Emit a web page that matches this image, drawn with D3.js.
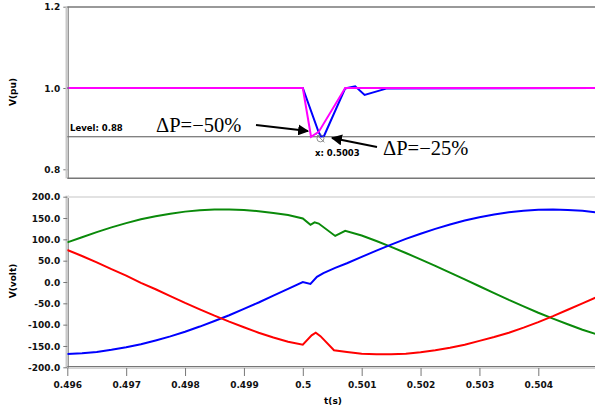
<!DOCTYPE html>
<html>
<head>
<meta charset="utf-8">
<script src="https://cdn.jsdelivr.net/npm/d3@7"></script>
<style>
  body { margin: 0; background: #fff; }
  svg { display: block; }
  .tick text { font-family: "DejaVu Sans", sans-serif; font-weight: bold; font-size: 9px; fill: #111; }
  .tick line { stroke: #777; }
</style>
</head>
<body>
<div id="chart"></div>
<script>
// ---- data ----
const xTicks = [0.496, 0.497, 0.498, 0.499, 0.5, 0.501, 0.502, 0.503, 0.504];
const xTickLabels = ["0.496", "0.497", "0.498", "0.499", "0.5", "0.501", "0.502", "0.503", "0.504"];
const topTicks = [0.8, 1.0, 1.2];
const topTickLabels = ["0.8", "1.0", "1.2"];
const botTicks = [-200, -150, -100, -50, 0, 50, 100, 150, 200];
const botTickLabels = ["-200.0", "-150.0", "-100.0", "-50.0", "0.0", "50.0", "100.0", "150.0", "200.0"];

// top panel, V(pu)
const puMagentaT = [0.49600, 0.50000, 0.50014, 0.50027, 0.50072, 0.50500];
const puMagentaV = [1.000, 1.000, 0.880, 0.892, 1.000, 1.000];
const puBlueT = [0.49600, 0.50000, 0.50027, 0.50031, 0.50036, 0.50072, 0.50089, 0.50105, 0.50143, 0.50500];
const puBlueV = [1.000, 1.000, 0.891, 0.881, 0.882, 0.999, 1.004, 0.983, 0.999, 1.000];
const levelValue = 0.88;

// bottom panel, V(volt)
const redT = [0.49600, 0.49625, 0.49650, 0.49675, 0.49700, 0.49725, 0.49750, 0.49775, 0.49800, 0.49825,
  0.49850, 0.49875, 0.49900, 0.49925, 0.49950, 0.49975, 0.50000, 0.50015, 0.50022, 0.50030, 0.50053,
  0.50075, 0.50100, 0.50125, 0.50150, 0.50175, 0.50200, 0.50225, 0.50250, 0.50275, 0.50300, 0.50325,
  0.50350, 0.50375, 0.50400, 0.50425, 0.50450, 0.50475, 0.50500];
const redV = [75, 61, 46, 30, 15, -2, -17, -33, -49, -64,
  -79, -93, -106, -119, -130, -140, -147, -125, -119, -127, -160,
  -164, -168, -169.5, -169.5, -168, -164.5, -160, -154, -147, -138, -129,
  -119, -107, -94, -80, -65, -50, -35];

const greenT = [0.49600, 0.49625, 0.49650, 0.49675, 0.49700, 0.49725, 0.49750, 0.49775, 0.49800, 0.49825,
  0.49850, 0.49875, 0.49900, 0.49925, 0.49950, 0.49975, 0.50000, 0.50013, 0.50020, 0.50027, 0.50055,
  0.50072, 0.50100, 0.50125, 0.50150, 0.50175, 0.50200, 0.50225, 0.50250, 0.50275, 0.50300, 0.50325,
  0.50350, 0.50375, 0.50400, 0.50425, 0.50450, 0.50475, 0.50500];
const greenV = [93, 105, 117, 128, 138, 147, 154, 160, 165, 168,
  170, 170, 169, 166, 162, 157, 149, 134, 140, 137, 108,
  120, 109, 96, 82.5, 68, 53, 38, 22, 6, -10, -26,
  -42, -57, -72, -86, -99, -112, -123];

const blueT = [0.49600, 0.49625, 0.49650, 0.49675, 0.49700, 0.49725, 0.49750, 0.49775, 0.49800, 0.49825,
  0.49850, 0.49875, 0.49900, 0.49925, 0.49950, 0.49975, 0.50000, 0.50013, 0.50024, 0.50035, 0.50055,
  0.50075, 0.50100, 0.50125, 0.50150, 0.50175, 0.50200, 0.50225, 0.50250, 0.50275, 0.50300, 0.50325,
  0.50350, 0.50375, 0.50400, 0.50425, 0.50450, 0.50475, 0.50500];
const blueV = [-169, -167, -164, -159, -153, -146, -137, -127.5, -116.5, -104.5,
  -91.5, -78, -63, -48, -32, -16, 0, -4.5, 12, 21, 33,
  44, 59, 73.5, 87.5, 101, 113, 124.5, 135, 144, 152, 158.5,
  163.5, 167, 169.5, 170, 169, 167, 163];

// ---- layout ----
const width = 595, height = 410;
const left = 67.3;
const topPanel = { top: 6.7, bottom: 178.3 };
const botPanel = { top: 196.7, bottom: 367.3 };

const svg = d3.select("#chart").append("svg")
  .attr("width", width).attr("height", height)
  .attr("viewBox", [0, 0, width, height]);

const xScale = d3.scaleLinear().domain([0.496, 0.505]).range([left, left + 9 * 58.875]);
const yTop = d3.scaleLinear().domain([0.8, 1.2]).range([169.3, 6.7]);
const yBot = d3.scaleLinear().domain([-200, 200]).range([367.3, 196.7]);

const zip = (ts, vs) => ts.map((t, i) => [t, vs[i]]);

svg.append("defs").call(defs => {
  defs.append("clipPath").attr("id", "clipTop").append("rect")
    .attr("x", left).attr("y", topPanel.top).attr("width", width - left).attr("height", topPanel.bottom - topPanel.top);
  defs.append("clipPath").attr("id", "clipBot").append("rect")
    .attr("x", left).attr("y", botPanel.top).attr("width", width - left).attr("height", botPanel.bottom - botPanel.top + 1);
  defs.append("marker").attr("id", "head")
    .attr("viewBox", "0 0 10 10").attr("refX", 9).attr("refY", 5)
    .attr("markerWidth", 5.5).attr("markerHeight", 5.5).attr("markerUnits", "strokeWidth")
    .attr("orient", "auto")
    .append("path").attr("d", "M0,0L10,5L0,10Z").attr("fill", "#000");
});

// ---- top panel ----
const topG = svg.append("g");
topG.append("line").attr("x1", left).attr("x2", width).attr("y1", 7).attr("y2", 7)
  .attr("stroke", "#777").attr("stroke-width", 1.4);
topG.append("line").attr("x1", left).attr("x2", width).attr("y1", topPanel.bottom).attr("y2", topPanel.bottom)
  .attr("stroke", "#777").attr("stroke-width", 1.4);
topG.append("line").attr("x1", left).attr("x2", width)
  .attr("y1", yTop(levelValue)).attr("y2", yTop(levelValue))
  .attr("stroke", "#555").attr("stroke-width", 1);

const topLine = d3.line().x(d => xScale(d[0])).y(d => yTop(d[1]));
const topPlot = topG.append("g").attr("clip-path", "url(#clipTop)");
topPlot.append("path").datum(zip(puBlueT, puBlueV))
  .attr("d", topLine).attr("fill", "none").attr("stroke", "#0000ff").attr("stroke-width", 2);
topPlot.append("path").datum(zip(puMagentaT, puMagentaV))
  .attr("d", topLine).attr("fill", "none").attr("stroke", "#ff00ff").attr("stroke-width", 2);

topG.append("g").attr("transform", `translate(${left},0)`)
  .call(d3.axisLeft(yTop).tickValues(topTicks).tickSize(4).tickPadding(3)
    .tickFormat((d, i) => topTickLabels[i]))
  .call(g => g.select(".domain").remove())
  .call(g => g.selectAll(".tick text").attr("dy", "0.35em"));

topG.append("text").attr("x", 70).attr("y", 130.5)
  .attr("font-family", "DejaVu Sans, sans-serif").attr("font-weight", "bold").attr("font-size", 8.5)
  .text("Level: " + levelValue.toFixed(2));

// cursor marker at x = 0.5003
const cx = xScale(0.5003), cy = yTop(0.876);
topG.append("circle").attr("cx", cx).attr("cy", cy).attr("r", 3.5)
  .attr("fill", "none").attr("stroke", "#777").attr("stroke-width", 0.8);
topG.append("line").attr("x1", cx - 4).attr("y1", cy - 4).attr("x2", cx + 4).attr("y2", cy + 4)
  .attr("stroke", "#777").attr("stroke-width", 0.8);
topG.append("text").attr("x", 315).attr("y", 156)
  .attr("font-family", "DejaVu Sans, sans-serif").attr("font-weight", "bold").attr("font-size", 8.5)
  .text("x: 0.5003");

// annotations
const serif = "Liberation Serif, Times New Roman, serif";
topG.append("text").attr("x", 156).attr("y", 132)
  .attr("font-family", serif).attr("font-size", 20.5).text("\u0394P=\u221250%");
topG.append("text").attr("x", 383).attr("y", 155)
  .attr("font-family", serif).attr("font-size", 20.5).text("\u0394P=\u221225%");
topG.append("line")
  .attr("x1", 256).attr("y1", 125).attr("x2", 308).attr("y2", 131)
  .attr("stroke", "#000").attr("stroke-width", 2).attr("marker-end", "url(#head)");
topG.append("line")
  .attr("x1", 377).attr("y1", 147).attr("x2", 332).attr("y2", 138)
  .attr("stroke", "#000").attr("stroke-width", 2).attr("marker-end", "url(#head)");

// left axis line (double grey)
[[66.3, "#c8c8c8", 1.6], [68.2, "#777", 1.1]].forEach(([xx, c, w]) => {
  svg.append("line").attr("x1", xx).attr("x2", xx).attr("y1", topPanel.top).attr("y2", topPanel.bottom)
    .attr("stroke", c).attr("stroke-width", w);
  svg.append("line").attr("x1", xx).attr("x2", xx).attr("y1", botPanel.top - 1).attr("y2", 368)
    .attr("stroke", c).attr("stroke-width", w);
});

// ---- bottom panel ----
const botG = svg.append("g");
botG.append("line").attr("x1", left).attr("x2", width).attr("y1", 197).attr("y2", 197)
  .attr("stroke", "#e2e2e2").attr("stroke-width", 2);

const botLine = d3.line().x(d => xScale(d[0])).y(d => yBot(d[1]));
const botPlot = botG.append("g").attr("clip-path", "url(#clipBot)");
[[greenT, greenV, "#0a8a0a"], [blueT, blueV, "#0000ff"], [redT, redV, "#ff0000"]].forEach(([ts, vs, c]) => {
  botPlot.append("path").datum(zip(ts, vs))
    .attr("d", botLine).attr("fill", "none").attr("stroke", c).attr("stroke-width", 2);
});

botG.append("g").attr("transform", `translate(${left},0)`)
  .call(d3.axisLeft(yBot).tickValues(botTicks).tickSize(4).tickPadding(3)
    .tickFormat((d, i) => botTickLabels[i]))
  .call(g => g.select(".domain").remove())
  .call(g => g.selectAll(".tick text").attr("dy", "0.35em"));

botG.append("line").attr("x1", left).attr("x2", width).attr("y1", 366.6).attr("y2", 366.6)
  .attr("stroke", "#777").attr("stroke-width", 1.4);
botG.append("line").attr("x1", left).attr("x2", width).attr("y1", 368.3).attr("y2", 368.3)
  .attr("stroke", "#c8c8c8").attr("stroke-width", 1);

botG.append("g").attr("transform", "translate(0,368)")
  .call(d3.axisBottom(xScale).tickValues(xTicks).tickSize(8).tickPadding(9)
    .tickFormat((d, i) => xTickLabels[i]))
  .call(g => g.select(".domain").remove())
  .call(g => g.selectAll(".tick text").attr("dy", "0.35em"));

// axis titles
const labelFont = g => g.attr("font-family", "DejaVu Sans, sans-serif").attr("font-weight", "bold")
  .attr("font-size", 9).attr("text-anchor", "middle");
svg.append("text").attr("transform", "translate(16,92) rotate(-90)").call(labelFont).text("V(pu)");
svg.append("text").attr("transform", "translate(16,281) rotate(-90)").call(labelFont).text("V(volt)");
svg.append("text").attr("x", 333).attr("y", 404).call(labelFont).text("t(s)");
</script>
</body>
</html>
